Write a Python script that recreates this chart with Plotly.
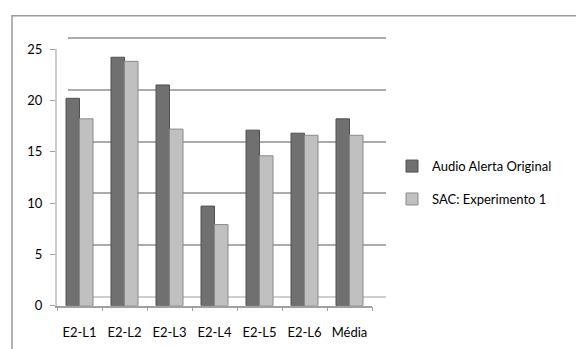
import plotly.graph_objects as go

W, H = 576, 349

categories = ["E2-L1", "E2-L2", "E2-L3", "E2-L4", "E2-L5", "E2-L6", "Média"]
series_names = ["Audio Alerta Original", "SAC: Experimento 1"]
audio_original = [20.2, 24.2, 21.5, 9.7, 17.1, 16.8, 18.2]
sac_exp1 = [18.2, 23.8, 17.2, 7.9, 14.6, 16.6, 16.6]
y_ticks = [0, 5, 10, 15, 20, 25]

FONT = "Lato"

def px_x(p):
    return p / W

def px_y(p):
    return (H - p) / H

fig = go.Figure()

# empty trace so the back-wall subplot (x/y) is drawn
fig.add_trace(go.Scatter(x=[], y=[], xaxis="x", yaxis="y",
                         showlegend=False, hoverinfo="skip"))

# bar traces on the front subplot (x2/y2)
fig.add_trace(go.Bar(
    x=categories, y=audio_original, name=series_names[0],
    xaxis="x2", yaxis="y2", legendgroup="a",
    marker=dict(color="#707070", line=dict(color="#505050", width=1)),
))
fig.add_trace(go.Bar(
    x=categories, y=sac_exp1, name=series_names[1],
    xaxis="x2", yaxis="y2", legendgroup="b",
    marker=dict(color="#c0c0c0", line=dict(color="#8a8a8a", width=1)),
))

fig.update_layout(
    width=W, height=H,
    margin=dict(l=0, r=0, t=0, b=0),
    paper_bgcolor="white", plot_bgcolor="rgba(0,0,0,0)",
    font=dict(family=FONT, size=13, color="#000000"),
    barmode="group", bargap=0.4, bargroupgap=0.0,
    # back wall (gridlines) subplot
    xaxis=dict(domain=[px_x(68), px_x(386)], showgrid=False, zeroline=False,
               showticklabels=False, ticks="", showline=True,
               linecolor="#cfcfcf", linewidth=2, range=[0, 1], fixedrange=True),
    yaxis=dict(domain=[px_y(302), px_y(29.8)], range=[0, 25.2], tickvals=y_ticks,
               showgrid=True, gridcolor="#ababab", gridwidth=1.5,
               zeroline=False, showticklabels=False, ticks="", showline=False),
    # front subplot with the bars
    xaxis2=dict(domain=[px_x(57), px_x(372)], anchor="y2", type="category",
                showline=True, linecolor="#a0a0a0", linewidth=1.5,
                ticks="outside", tickson="boundaries", ticklen=4,
                tickcolor="#a0a0a0", showgrid=False, zeroline=False,
                ticklabelstandoff=14,
                tickfont=dict(family=FONT, size=13, color="#000000")),
    yaxis2=dict(domain=[px_y(312), px_y(43)], anchor="x2", range=[0, 25],
                tickvals=y_ticks, showgrid=False, zeroline=False,
                showline=True, linecolor="#cccccc", linewidth=2,
                ticks="outside", ticklen=5, tickcolor="#a0a0a0",
                ticklabelstandoff=5,
                tickfont=dict(family=FONT, size=13, color="#000000")),
    legend=dict(x=px_x(392), y=px_y(150), xanchor="left", yanchor="top",
                traceorder="grouped", tracegroupgap=13,
                font=dict(family=FONT, size=13, color="#000000"),
                bgcolor="rgba(0,0,0,0)"),
    shapes=[
        dict(type="rect", xref="paper", yref="paper",
             x0=px_x(12), x1=1.02, y0=-0.05, y1=px_y(8),
             line=dict(color="#9a9a9a", width=1.5), layer="below"),
    ],
)

fig.write_html("out.html")
